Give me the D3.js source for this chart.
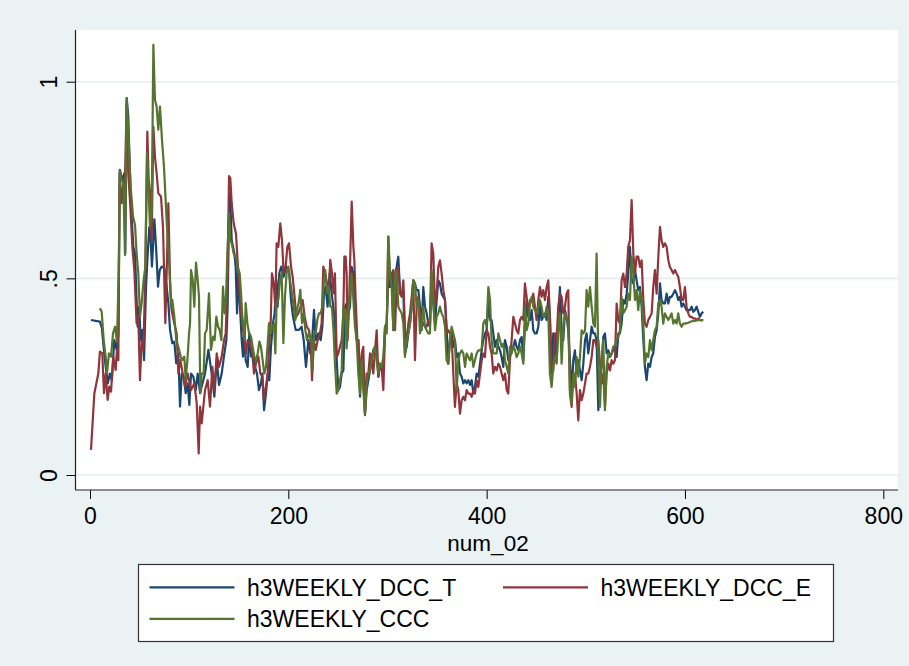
<!DOCTYPE html>
<html>
<head>
<meta charset="utf-8">
<script src="https://cdn.jsdelivr.net/npm/d3@7"></script>
<style>
  body { margin: 0; background: #eaf2f3; }
  text { font-family: "Liberation Sans", Arial, sans-serif; fill: #000; }
</style>
</head>
<body>
<script>
// values: [num_02, value]
const dccT = [
  [1,.394],[10,.39],[12,.373],[15,.292],[18,.233],[20,.258],[22,.241],[24.5,.343],[27,.318],[28.6,.36],[30,.776],[32.6,.75],[34.6,.767],[35.6,.563],[37,.958],[38.6,.911],[40.3,.767],[42,.657],[43.7,.58],[45.4,.563],[47,.445],[48,.377],[49.7,.428],[51,.343],[52.8,.369],[54.5,.292],[56.5,.479],[58.2,.563],[59.8,.63],[61.2,.597],[62.5,.53],[63.9,.6],[64.9,.65],[66.6,.58],[68.6,.479],[70.3,.521],[72.3,.53],[75,.526],[77.3,.479],[79,.437],[80.7,.369],[83,.335],[85,.339],[87,.284],[89.1,.309],[90.8,.174],[92.5,.258],[94.5,.25],[96.5,.208],[98.5,.233],[100.2,.178],[101.9,.258],[104.2,.25],[106.6,.216],[108.6,.258],[111,.208],[112.6,.225],
  [116,.258],[119.4,.318],[122.7,.258],[125.4,.199],[127.8,.292],[130.1,.229],[132.8,.258],[135.5,.309],[137.5,.343],[138.8,.428],[140.2,.665],[141.2,.716],[142.9,.597],[145.6,.563],[146.9,.53],[148.3,.411],[149.6,.513],[150.9,.445],[153,.343],[154.3,.301],[155.6,.369],[157,.292],[159,.275],[160.7,.36],[162.4,.301],[164.4,.309],[166.4,.275],[168.4,.258],[170.4,.216],[172.4,.233],[173.8,.258],[175.5,.165],[177.5,.208],[179.2,.258],[180.8,.241],[182.5,.326],[184.5,.386],[186.2,.411],[187.9,.496],[189.2,.428],[190.9,.513],[192.9,.53],[195.3,.504],[198,.53],[200.7,.521],[202.7,.445],[204.7,.403],[207.4,.369],[210.8,.369],[213.4,.377],[215.5,.343],[217.8,.275],[220.2,.343],[222.2,.309],[224.2,.352],[225.9,.42],[227.6,.343],[230.2,.36],[232.6,.343],[234.3,.377],[236,.462],[237.6,.479],[239.6,.428],[241.7,.513],[243.7,.462],[245.7,.42],[247,.386],
  [248.8,.292],[250.4,.216],[252.1,.224],[253.8,.258],[255.5,.266],[257.2,.428],[258.8,.436],[260.5,.411],[262.2,.428],[263.9,.529],[265.6,.512],[267.2,.428],[268.9,.343],[270.6,.343],[272.3,.199],[274,.292],[275.6,.258],[277.3,.156],[279,.216],[280.7,.241],[282.4,.266],[284,.292],[285.7,.317],[287.4,.326],[289.1,.309],[290.8,.25],[292.4,.283],[294.1,.275],[295.8,.275],[297.5,.377],[299.2,.385],[300.8,.512],[302.5,.478],[304.2,.512],[305.9,.368],[307.6,.512],[309.2,.529],[310.9,.555],[312.6,.47],[314.3,.461],[316,.47],[317.6,.309],[319.3,.326],[321,.36],[322.7,.385],[324.4,.428],[326,.495],[327.7,.487],[329.4,.47],[331.1,.47],[332.8,.428],[334.4,.368],[336.1,.478],[337.8,.428],[339.5,.411],[341.2,.385],[342.8,.377],[344.5,.512],[346.2,.436],[347.9,.385],[349.6,.445],[351.2,.495],[352.9,.487],[354.6,.461],[356.3,.453],[358,.445],[359.6,.377],[361.3,.283],[363,.343],[364.7,.368],[366.4,.326],[368,.343],
  [369.8,.3],[371.4,.309],[373.1,.258],[374.8,.25],[376.5,.233],[378.2,.241],[379.8,.233],[381.5,.241],[383.2,.229],[384.9,.241],[386.6,.207],[388.2,.224],[389.9,.258],[391.6,.25],[393.3,.283],[395,.317],[396.6,.343],[398.3,.36],[400,.368],[401.7,.445],[403.4,.394],[405,.394],[406.7,.36],[408.4,.326],[410.1,.343],[411.8,.326],[413.4,.317],[415.1,.3],[416.8,.275],[418.5,.343],[420.2,.326],[421.8,.292],[423.5,.3],[425.2,.326],[426.9,.326],[428.6,.343],[430.2,.326],[431.9,.317],[433.6,.343],[435.3,.351],[437,.292],[438.6,.377],[440.3,.445],[442,.402],[443.7,.394],[445.4,.419],[447,.368],[448.7,.36],[450.4,.36],[452.1,.377],[453.8,.436],[455.4,.394],[457.1,.402],[458.8,.411],[460.5,.394],[462.2,.453],[463.8,.402],[465.5,.258],[467.2,.36],[468.9,.351],[470.6,.292],[472.2,.385],[473.9,.478],[475.6,.368],[477.3,.343],[479,.419],[480.6,.402],[482.3,.368],[484,.292],[485.7,.207],[487.4,.292],[489,.317],
  [490.8,.258],[492.4,.292],[494.1,.266],[495.8,.241],[497.5,.283],[499.2,.343],[500.8,.36],[502.5,.309],[504.2,.343],[505.9,.377],[507.6,.36],[509.2,.36],[510.9,.343],[512.6,.165],[514.3,.258],[516,.275],[517.6,.351],[519.3,.36],[521,.309],[522.7,.317],[524.4,.3],[526,.309],[527.7,.317],[529.4,.326],[531.1,.3],[532.8,.36],[534.4,.36],[536.1,.385],[537.8,.445],[539.5,.436],[541.2,.461],[542.8,.512],[544.5,.58],[546.2,.495],[547.9,.487],[549.6,.521],[551.2,.495],[552.9,.47],[554.6,.478],[556.3,.428],[558,.343],[559.6,.275],[561.3,.241],[563,.283],[564.7,.275],[566.4,.3],[568,.309],[569.7,.351],[571.4,.368],[573.1,.411],[574.8,.487],[576.4,.445],[578.1,.436],[579.8,.436],[581.5,.461],[583.2,.436],[584.8,.453],[586.5,.453],[588.2,.461],[589.9,.47],[591.6,.461],[593.2,.445],[594.9,.453],[596.6,.428],[598.3,.436],[600,.428],[601.6,.419],[603.3,.419],[605,.419],[606.7,.428],[608.4,.415],[610,.419],[611.7,.428],[613.4,.415],[615.1,.402],[616.8,.411],[618.4,.415]
];

const dccE = [
  [1,.064],[4.4,.208],[8.4,.258],[10,.314],[12.4,.309],[14.1,.208],[15.8,.258],[17.8,.191],[19.5,.225],[21.2,.212],[23.5,.301],[25.9,.267],[27.2,.318],[28.6,.292],[29.9,.767],[31.9,.691],[33.9,.75],[35.3,.759],[37,.945],[38.6,.767],[40.7,.682],[42.7,.58],[44.7,.521],[47,.386],[48.7,.403],[50.4,.241],[52.1,.343],[53.8,.318],[55.8,.513],[57.8,.873],[59.2,.75],[60.8,.716],[62.2,.597],[63.9,.886],[65.5,.809],[67.2,.767],[68.9,.716],[71.6,.708],[73.6,.631],[76,.386],[77.3,.513],[79,.691],[80.7,.496],[82.3,.419],[85,.386],[87.4,.36],[89.1,.258],[91.1,.292],[93.5,.258],[95.8,.225],[98.5,.258],[101.9,.216],[105.2,.233],[107.6,.183],[109.6,.055],[111,.174],[112.6,.131],[114.3,.174],
  [116,.216],[118.7,.241],[121,.174],[123.4,.275],[125.4,.216],[127.8,.309],[130.1,.275],[132.8,.301],[135.2,.343],[136.8,.36],[138.5,.47],[140.2,.76],[141.5,.755],[142.9,.691],[144.9,.64],[147.2,.614],[149.6,.513],[151.6,.428],[153.6,.386],[155.6,.343],[157.3,.309],[159,.343],[161.4,.335],[163.7,.309],[165.4,.258],[167.4,.284],[169.8,.301],[171.8,.258],[173.8,.25],[175.5,.191],[177.5,.225],[179.2,.258],[180.8,.335],[182.2,.386],[183.5,.513],[185.2,.488],[186.9,.428],[188.2,.589],[189.9,.58],[191.9,.64],[193.6,.597],[195.3,.513],[197.3,.53],[199,.58],[200.7,.589],[202.7,.53],[204.4,.504],[206,.462],[208.1,.403],[210.1,.411],[212.4,.428],[214.4,.445],[216.5,.403],[218.5,.377],[220.8,.369],[222.5,.343],[223.9,.241],[225.5,.343],[227.6,.318],[229.6,.343],[231.9,.36],[233.6,.386],[235.3,.53],[237,.513],[239,.488],[240.7,.462],[242.3,.547],[244,.513],[245.7,.462],[247,.513],
  [248.8,.3],[250.4,.309],[252.1,.326],[253.8,.343],[255.5,.411],[256.5,.555],[257.8,.555],[258.8,.512],[259.8,.343],[261.2,.428],[262.2,.529],[263.9,.695],[265.6,.58],[266.6,.546],[267.9,.445],[269.6,.343],[270.6,.343],[272.3,.241],[274,.309],[275.6,.326],[277.3,.152],[279,.258],[280.7,.258],[282.4,.309],[284,.3],[285.7,.258],[287.4,.317],[289.1,.368],[290.8,.25],[292.4,.275],[294.1,.275],[295.8,.216],[297.5,.36],[299.2,.368],[300.8,.606],[302.5,.495],[304.2,.512],[305.9,.521],[307.6,.368],[309.2,.487],[310.9,.529],[312.6,.461],[314.3,.453],[316,.495],[317.6,.377],[319.3,.326],[321,.385],[322.7,.411],[324.4,.453],[326,.495],[327.7,.292],[329.4,.428],[331.1,.453],[332.8,.411],[334.4,.394],[336.1,.385],[337.8,.377],[339.5,.377],[341.2,.394],[342.8,.385],[344.5,.589],[346.2,.563],[347.9,.428],[349.6,.461],[351.2,.529],[352.9,.546],[354.6,.512],[356.3,.47],[358,.445],[359.6,.36],[361.3,.368],[363,.36],[364.7,.351],[366.4,.258],[368,.173],
  [369.8,.233],[371.4,.216],[373.1,.156],[374.8,.19],[376.5,.199],[378.2,.19],[379.8,.216],[381.5,.207],[383.2,.207],[384.9,.199],[386.6,.216],[388.2,.207],[389.9,.241],[391.6,.224],[393.3,.258],[395,.292],[396.6,.309],[398.3,.3],[400,.368],[401.7,.36],[403.4,.326],[405,.309],[406.7,.258],[408.4,.275],[410.1,.266],[411.8,.283],[413.4,.275],[415.1,.258],[416.8,.241],[418.5,.258],[420.2,.216],[421.8,.207],[423.5,.292],[425.2,.343],[426.9,.402],[428.6,.385],[430.2,.368],[431.9,.36],[433.6,.394],[435.3,.402],[437,.394],[438.6,.487],[440.3,.453],[442,.411],[443.7,.445],[445.4,.445],[447,.461],[448.7,.428],[450.4,.394],[452.1,.445],[453.8,.478],[455.4,.453],[457.1,.47],[458.8,.445],[460.5,.478],[462.2,.495],[463.8,.402],[465.5,.258],[467.2,.266],[468.9,.36],[470.6,.343],[472.2,.428],[473.9,.461],[475.6,.453],[477.3,.411],[479,.428],[480.6,.461],[482.3,.47],[484,.207],[485.7,.173],[487.4,.258],[489,.258],
  [490.8,.207],[492.4,.139],[494.1,.216],[495.8,.19],[497.5,.207],[499.2,.233],[500.8,.258],[502.5,.258],[504.2,.275],[505.9,.3],[507.6,.343],[509.2,.343],[510.9,.326],[512.6,.343],[514.3,.283],[516,.233],[517.6,.258],[519.3,.173],[521,.258],[522.7,.283],[524.4,.266],[526,.292],[527.7,.283],[529.4,.292],[531.1,.436],[532.8,.394],[534.4,.385],[536.1,.495],[537.8,.512],[539.5,.478],[541.2,.512],[542.8,.58],[544.5,.597],[546.2,.699],[547.9,.563],[549.6,.512],[551.2,.555],[552.9,.555],[554.6,.529],[556.3,.546],[558,.445],[559.6,.385],[561.3,.377],[563,.394],[564.7,.402],[566.4,.411],[568,.478],[569.7,.521],[571.4,.461],[573.1,.555],[574.8,.631],[576.4,.597],[578.1,.58],[579.8,.589],[581.5,.58],[583.2,.546],[584.8,.529],[586.5,.521],[588.2,.512],[589.9,.521],[591.6,.512],[593.2,.504],[594.9,.478],[596.6,.445],[598.3,.445],[600,.478],[601.6,.428],[603.3,.411],[605,.402],[606.7,.402],[608.4,.398],[610,.398],[611.7,.394],[613.4,.398],[615.1,.394],[616.8,.394],[618.4,.394]
];

const ccc = [
  [10,.424],[11.8,.415],[13.8,.343],[15.8,.301],[17.1,.258],[19.1,.309],[21.2,.301],[23.2,.36],[25.2,.377],[27.2,.339],[28.9,.513],[30.2,.776],[31.9,.75],[33.6,.742],[35.3,.559],[37,.958],[39,.852],[41,.733],[43.4,.657],[45.4,.636],[47,.563],[48.7,.513],[50.4,.403],[52.1,.437],[54.1,.496],[55.8,.53],[57.5,.818],[58.8,.742],[60.5,.631],[62.2,.665],[63.9,1.094],[65.5,.954],[67.2,.937],[68.9,.878],[70.6,.937],[72.6,.852],[74.6,.784],[76.6,.682],[78.3,.597],[80,.53],[81.7,.428],[83,.445],[85,.403],[87,.343],[89.1,.326],[91.5,.301],[93.1,.292],[95.1,.301],[96.5,.241],[98.2,.292],[99.9,.36],[100.9,.386],[101.9,.521],[103.6,.496],[105.2,.428],[106.9,.54],[108.6,.496],[109.9,.454],[111.3,.208],[112.6,.258],[114.6,.258],
  [116,.36],[117.7,.369],[120,.462],[122,.318],[124.1,.352],[125.7,.343],[127.4,.403],[129.1,.377],[130.8,.369],[132.5,.343],[134.1,.479],[135.8,.411],[137.2,.454],[138.5,.563],[140.2,.665],[141.5,.597],[142.9,.589],[144.9,.563],[146.9,.555],[148.9,.53],[150.9,.513],[152.3,.462],[153.6,.403],[155,.377],[156,.343],[157,.437],[158.7,.386],[160.4,.36],[162.4,.352],[164,.326],[165.7,.301],[167.4,.292],[169.1,.309],[170.8,.339],[172.4,.326],[174.1,.292],[175.8,.258],[177.5,.275],[179.2,.335],[180.5,.386],[182.2,.36],[183.9,.377],[185.6,.386],[186.9,.309],[188.2,.437],[189.9,.445],[191.6,.496],[193.3,.513],[195,.335],[196.6,.454],[198.3,.513],[200,.53],[201.7,.496],[203.7,.462],[205.4,.428],[207.1,.394],[208.7,.42],[210.4,.437],[212.1,.471],[213.8,.386],[215.5,.411],[217.1,.369],[218.8,.343],[220.5,.36],[222.2,.352],[223.5,.343],[224.5,.267],[225.9,.36],[227.6,.36],[229.2,.394],[230.9,.411],[232.6,.411],[234.3,.428],[236,.496],[237.3,.521],[239,.462],[240.7,.479],[242.3,.428],[244,.428],[245.7,.36],[247,.284],
  [248.8,.207],[250.4,.216],[252.1,.241],[253.8,.266],[255.5,.428],[257.2,.419],[258.8,.322],[260.5,.411],[262.2,.461],[263.9,.512],[265.6,.445],[267.2,.377],[268.9,.343],[270.6,.258],[272.3,.207],[274,.292],[275.6,.216],[277.3,.156],[279,.233],[280.7,.258],[282.4,.266],[284,.292],[285.7,.317],[287.4,.326],[289.1,.292],[290.8,.258],[292.4,.283],[294.1,.275],[295.8,.3],[297.5,.377],[299.2,.36],[300.8,.606],[302.5,.512],[304.2,.478],[305.9,.368],[307.6,.512],[309.2,.521],[310.9,.428],[312.6,.419],[314.3,.411],[316,.385],[317.6,.3],[319.3,.343],[321,.36],[322.7,.385],[324.4,.428],[326,.495],[327.7,.487],[329.4,.428],[331.1,.445],[332.8,.36],[334.4,.385],[336.1,.428],[337.8,.377],[339.5,.368],[341.2,.36],[342.8,.36],[344.5,.521],[346.2,.445],[347.9,.368],[349.6,.402],[351.2,.411],[352.9,.428],[354.6,.411],[356.3,.402],[358,.377],[359.6,.292],[361.3,.283],[363,.343],[364.7,.377],[366.4,.36],[368,.343],
  [369.8,.216],[371.4,.292],[373.1,.309],[374.8,.317],[376.5,.309],[378.2,.275],[379.8,.309],[381.5,.3],[383.2,.292],[384.9,.309],[386.6,.275],[388.2,.292],[389.9,.309],[391.6,.317],[393.3,.317],[395,.322],[396.6,.385],[398.3,.394],[400,.377],[401.7,.478],[403.4,.445],[405,.343],[406.7,.309],[408.4,.309],[410.1,.309],[411.8,.36],[413.4,.343],[415.1,.326],[416.8,.334],[418.5,.292],[420.2,.275],[421.8,.258],[423.5,.326],[425.2,.309],[426.9,.326],[428.6,.317],[430.2,.3],[431.9,.309],[433.6,.326],[435.3,.309],[437,.283],[438.6,.428],[440.3,.368],[442,.385],[443.7,.436],[445.4,.453],[447,.428],[448.7,.419],[450.4,.411],[452.1,.428],[453.8,.445],[455.4,.428],[457.1,.402],[458.8,.402],[460.5,.428],[462.2,.411],[463.8,.258],[465.5,.224],[467.2,.275],[468.9,.3],[470.6,.283],[472.2,.368],[473.9,.411],[475.6,.283],[477.3,.377],[479,.411],[480.6,.402],[482.3,.385],[484,.216],[485.7,.182],[487.4,.258],[489,.224],
  [490.8,.3],[492.4,.25],[494.1,.3],[495.8,.368],[497.5,.36],[499.2,.368],[500.8,.47],[502.5,.428],[504.2,.478],[505.9,.428],[507.6,.385],[509.2,.377],[510.9,.563],[512.6,.3],[514.3,.173],[516,.292],[517.6,.343],[519.3,.165],[521,.275],[522.7,.309],[524.4,.3],[526,.309],[527.7,.326],[529.4,.33],[531.1,.343],[532.8,.351],[534.4,.368],[536.1,.453],[537.8,.411],[539.5,.419],[541.2,.428],[542.8,.461],[544.5,.445],[546.2,.555],[547.9,.512],[549.6,.445],[551.2,.47],[552.9,.419],[554.6,.47],[556.3,.445],[558,.385],[559.6,.283],[561.3,.309],[563,.3],[564.7,.343],[566.4,.317],[568,.343],[569.7,.368],[571.4,.377],[573.1,.436],[574.8,.445],[576.4,.428],[578.1,.385],[579.8,.411],[581.5,.402],[583.2,.394],[584.8,.402],[586.5,.411],[588.2,.385],[589.9,.394],[591.6,.385],[593.2,.411],[594.9,.385],[596.6,.377],[598.3,.385],[600,.385],[603.3,.387],[606.7,.391],[610,.392],[613.4,.394],[618.4,.394]
];

const seriesNames = ["h3WEEKLY_DCC_T", "h3WEEKLY_DCC_E", "h3WEEKLY_CCC"];
const xTicks = [0, 200, 400, 600, 800];
const yTicks = [0, 0.5, 1];
const yTickLabels = ["0", ".5", "1"];
const xTitle = "num_02";

const colors = ["#1a476f", "#90353b", "#55752f"];

const width = 909, height = 666;
const plot = {left: 75.5, top: 30, right: 898, bottom: 490};

const svg = d3.select("body").append("svg")
    .attr("width", width)
    .attr("height", height);

svg.append("rect")
    .attr("width", width).attr("height", height)
    .attr("fill", "#eaf2f3");

svg.append("rect")
    .attr("x", plot.left).attr("y", plot.top)
    .attr("width", plot.right - plot.left).attr("height", plot.bottom - plot.top)
    .attr("fill", "#fff");

var x = d3.scaleLinear().domain([0, 800]).range([90, 883.3]);
var y = d3.scaleLinear().domain([0, 1]).range([475, 81.7]);

// grid
svg.append("g").selectAll("line")
    .data(yTicks)
    .enter().append("line")
    .attr("x1", plot.left).attr("x2", plot.right)
    .attr("y1", d => y(d)).attr("y2", d => y(d))
    .attr("stroke", "#e4eef0")
    .attr("stroke-width", 1.6);

// series, drawn in Stata order so the green one sits on top
var line = d3.line()
    .x(d => x(d[0]))
    .y(d => y(d[1]));

svg.append("g")
    .selectAll("path")
    .data([dccT, dccE, ccc])
    .enter().append("path")
    .attr("d", line)
    .attr("fill", "none")
    .attr("stroke", (d, i) => colors[i])
    .attr("stroke-width", 2.2)
    .attr("stroke-linejoin", "round");

// axes
var xAxis = d3.axisBottom(x).tickValues(xTicks).tickSize(9).tickPadding(9);
var yAxis = d3.axisLeft(y).tickValues(yTicks)
    .tickFormat((d, i) => yTickLabels[i]).tickSize(9);

var gx = svg.append("g")
    .attr("transform", "translate(0," + plot.bottom + ")")
    .call(xAxis);
gx.select(".domain").remove();
gx.selectAll("text")
    .style("font-size", "23px")
    .style("font-family", '"Liberation Sans", Arial, sans-serif');

var gy = svg.append("g")
    .attr("transform", "translate(" + plot.left + ",0)")
    .call(yAxis);
gy.select(".domain").remove();
gy.selectAll("text")
    .attr("x", 0).attr("dy", null)
    .attr("text-anchor", "middle")
    .attr("transform", "translate(-18.5,0) rotate(-90)")
    .style("font-size", "23px")
    .style("font-family", '"Liberation Sans", Arial, sans-serif');

svg.selectAll(".tick line").attr("stroke", "#000");

svg.append("line")
    .attr("x1", plot.left).attr("x2", plot.left)
    .attr("y1", plot.top).attr("y2", plot.bottom)
    .attr("stroke", "#222").attr("stroke-width", 1.2);
svg.append("line")
    .attr("x1", plot.left).attr("x2", plot.right)
    .attr("y1", plot.bottom).attr("y2", plot.bottom)
    .attr("stroke", "#222").attr("stroke-width", 1.2);

svg.append("text")
    .attr("x", 488).attr("y", 551)
    .attr("text-anchor", "middle")
    .style("font-size", "22.5px")
    .text(xTitle);

// legend
var legend = svg.append("g");
legend.append("rect")
    .attr("x", 138.5).attr("y", 564.5)
    .attr("width", 695).attr("height", 77)
    .attr("fill", "#fff")
    .attr("stroke", "#333").attr("stroke-width", 1.2);

var entries = legend.selectAll("g.entry")
    .data(seriesNames)
    .enter().append("g")
    .attr("class", "entry")
    .attr("transform", (d, i) => "translate(" + (149.5 + (i % 2) * 353.5) + "," + (587.3 + Math.floor(i / 2) * 31.5) + ")");

entries.append("line")
    .attr("x1", 0).attr("x2", 85)
    .attr("stroke", (d, i) => colors[i])
    .attr("stroke-width", 2.2);

entries.append("text")
    .attr("x", 97.5).attr("dy", "0.36em")
    .style("font-size", "23px")
    .text(d => d);
</script>
</body>
</html>
